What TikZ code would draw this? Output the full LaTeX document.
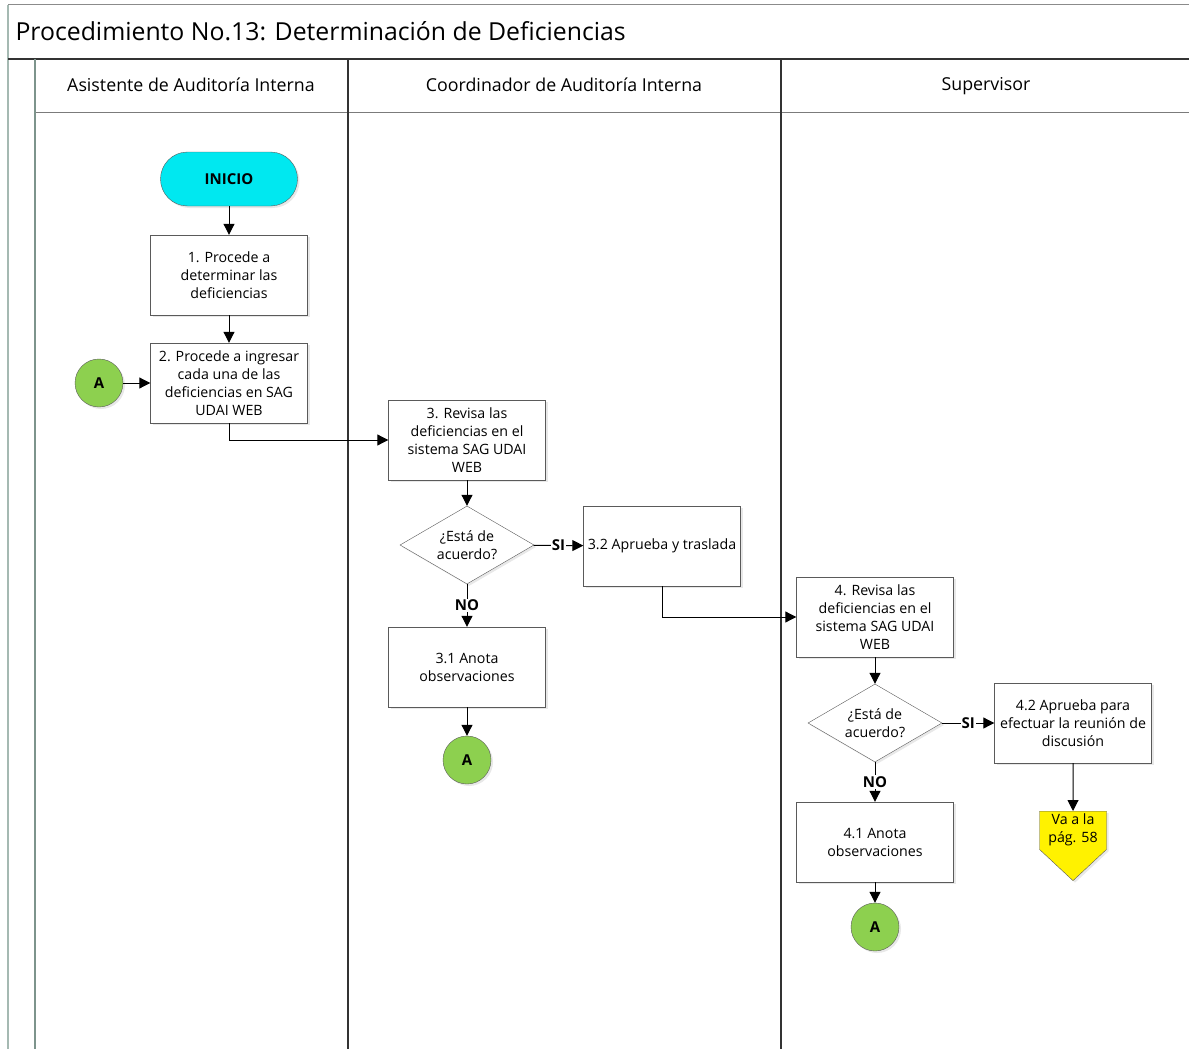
\documentclass[tikz,border=0pt]{standalone}
\usepackage{fontspec}
\setmainfont{Open Sans}
\usetikzlibrary{shapes.geometric,shapes.symbols,arrows.meta,shadows}
\definecolor{inicio}{RGB}{0,232,240}
\definecolor{conector}{RGB}{141,208,79}
\definecolor{borde}{RGB}{90,90,90}
\definecolor{carril}{RGB}{125,148,140}
\definecolor{marco}{RGB}{165,185,178}
\tikzset{
  sombra/.style={drop shadow={shadow xshift=2pt,shadow yshift=-2pt,opacity=0.18}},
  proc/.style={draw=borde, fill=white, sombra, minimum width=157pt, minimum height=80pt,
    inner sep=2pt, align=center, font=\fontsize{14.2}{18}\selectfont},
  decision/.style={draw=borde, fill=white, sombra, diamond, aspect=1.72, inner sep=0pt,
    minimum width=134pt, minimum height=78pt, align=center, font=\fontsize{14.2}{18}\selectfont},
  inicio/.style={draw=borde, fill=inicio, sombra, rounded corners=27pt, minimum width=137pt,
    minimum height=54pt, font=\fontsize{15}{18}\selectfont\bfseries},
  conA/.style={draw=borde, fill=conector, sombra, circle, minimum size=48pt, inner sep=0pt,
    font=\fontsize{15}{18}\selectfont\bfseries},
  pagina/.style={draw=borde, fill=yellow, sombra, signal, signal to=south, signal pointer angle=94,
    minimum width=67pt, inner xsep=0pt, inner ysep=3pt, align=center, font=\fontsize{14.2}{18}\selectfont},
  flecha/.style={-{Triangle[length=11pt,width=11pt]}, line width=1pt},
  etiq/.style={fill=white, inner sep=1pt, font=\fontsize{15}{18}\selectfont\bfseries},
  carriltxt/.style={font=\fontsize{17.8}{20}\selectfont}
}
\begin{document}
\begin{tikzpicture}[x=1pt,y=-1pt]
  \useasboundingbox (0,0) rectangle (1189,1049);
  \clip (0,0) rectangle (1189,1049);
  % marco y carriles
  \draw[marco, line width=1.5pt] (8,5) -- (8,1060);
  \draw[borde!70, line width=1pt] (8,5) -- (1200,5);
  \draw[black!80, line width=1.5pt] (8,59) -- (1200,59);
  \draw[borde!80, line width=1pt] (35,112) -- (1200,112);
  \draw[carril, line width=2pt] (35,59) -- (35,1060);
  \draw[black!80, line width=2pt] (348,59) -- (348,1060);
  \draw[black!80, line width=2pt] (781,59) -- (781,1060);
  \node[anchor=west, font=\fontsize{24.8}{28}\selectfont] (titulo) at (12,31) {Procedimiento No.13: Determinación de Deficiencias};
  \node[carriltxt] (asistente) at (191,85) {Asistente de Auditoría Interna};
  \node[carriltxt] (coordinador) at (564,85) {Coordinador de Auditoría Interna};
  \node[carriltxt] (supervisor) at (986,86) {Supervisor};

  % asistente
  \node[inicio] (ini) at (229,179) {INICIO};
  \node[proc] (p1) at (229,275) {1. Procede a\\determinar las\\deficiencias};
  \node[proc] (p2) at (229,383) {2. Procede a ingresar\\cada una de las\\deficiencias en SAG\\UDAI WEB};
  \node[conA] (a1) at (99,383) {A};

  % coordinador
  \node[proc] (p3) at (467,440) {3. Revisa las\\deficiencias en el\\sistema SAG UDAI\\WEB};
  \node[decision] (d3) at (467,545) {¿Está de\\acuerdo?};
  \node[proc] (p32) at (662,546) {3.2 Aprueba y traslada};
  \node[proc] (p31) at (467,667) {3.1 Anota\\observaciones};
  \node[conA] (a2) at (467,760) {A};

  % supervisor
  \node[proc] (p4) at (875,617) {4. Revisa las\\deficiencias en el\\sistema SAG UDAI\\WEB};
  \node[decision] (d4) at (875,723) {¿Está de\\acuerdo?};
  \node[proc] (p42) at (1073,723) {4.2 Aprueba para\\efectuar la reunión de\\discusión};
  \node[proc] (p41) at (875,842) {4.1 Anota\\observaciones};
  \node[conA] (a3) at (875,927) {A};
  \node[pagina, anchor=north] (pag) at (1073,811) {Va a la\\pág. 58};

  % conectores
  \draw[flecha] (ini) -- (p1);
  \draw[flecha] (p1) -- (p2);
  \draw[flecha] (a1) -- (p2);
  \draw[flecha] (p2.south) |- (p3.west);
  \draw[flecha] (p3) -- (d3);
  \draw[flecha] (d3) -- node[etiq] {SI} (p32);
  \draw[flecha] (d3) -- node[etiq] {NO} (p31);
  \draw[flecha] (p31) -- (a2);
  \draw[flecha] (p32.south) |- (p4.west);
  \draw[flecha] (p4) -- (d4);
  \draw[flecha] (d4) -- node[etiq] {SI} (p42);
  \draw[flecha] (d4) -- node[etiq] {NO} (p41);
  \draw[flecha] (p41) -- (a3);
  \draw[flecha] (p42) -- (pag);
\end{tikzpicture}
\end{document}
